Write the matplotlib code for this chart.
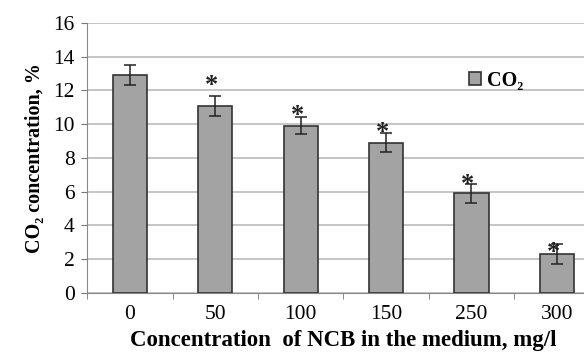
import matplotlib
matplotlib.use('Agg')
import matplotlib.pyplot as plt
import numpy as np

# data
categories = ['0', '50', '100', '150', '250', '300']
co2 = [12.9, 11.1, 9.9, 8.9, 5.9, 2.3]
err = [0.6, 0.6, 0.5, 0.55, 0.55, 0.6]
star_y = [None, 12.3, 10.5, 9.5, 6.4, 2.4]

plt.rcParams['font.family'] = ['Liberation Serif', 'DejaVu Serif']

fig = plt.figure(figsize=(5.84, 3.53), dpi=100)
ax = fig.add_axes([0.1495, 0.17, 0.877, 0.765])

x = np.arange(len(categories))
ax.bar(x, co2, width=0.4, color='#a3a3a3', edgecolor='#333333', linewidth=1.2,
       label='CO₂', zorder=3)
ax.errorbar(x, co2, yerr=err, fmt='none', ecolor='#222222', elinewidth=1.1,
            capsize=4, capthick=1.1, zorder=4)
for i, sy in enumerate(star_y):
    if sy is not None:
        ax.text(x[i] - 0.04, sy, '*', ha='center', va='center', fontsize=19,
                fontweight='bold', color='#222222', zorder=5)

ax.set_xlim(-0.5, 5.5)
ax.set_ylim(0, 16)
ax.set_yticks(range(0, 17, 2))
ax.set_xticks(x)
ax.set_xticklabels(categories)
ax.set_xticks(np.arange(-0.5, 5.6, 1), minor=True)
ax.tick_params(axis='x', which='major', length=0, pad=9, labelsize=15.5)
ax.tick_params(axis='x', which='minor', length=4, direction='out', color='#777777')
ax.tick_params(axis='y', length=4, direction='out', color='#777777', labelsize=15.5, pad=5)
ax.grid(axis='y', color='#bbbbbb', linewidth=1.2, zorder=0)
for s in ['top', 'right']:
    ax.spines[s].set_visible(False)
ax.spines['left'].set_color('#888888')
ax.spines['bottom'].set_color('#888888')

ax.set_xlabel('Concentration  of NCB in the medium, mg/l', fontsize=16.5,
              fontweight='bold', labelpad=4)
ax.set_ylabel('CO₂ concentration, %', fontsize=14.5, fontweight='bold', labelpad=6)

leg = ax.legend(loc='upper left', bbox_to_anchor=(0.71, 0.89), frameon=False,
                prop={'size': 14.5, 'weight': 'bold'},
                handlelength=0.6, handleheight=0.6, handletextpad=0.3)

fig.savefig('out.png', dpi=100)
